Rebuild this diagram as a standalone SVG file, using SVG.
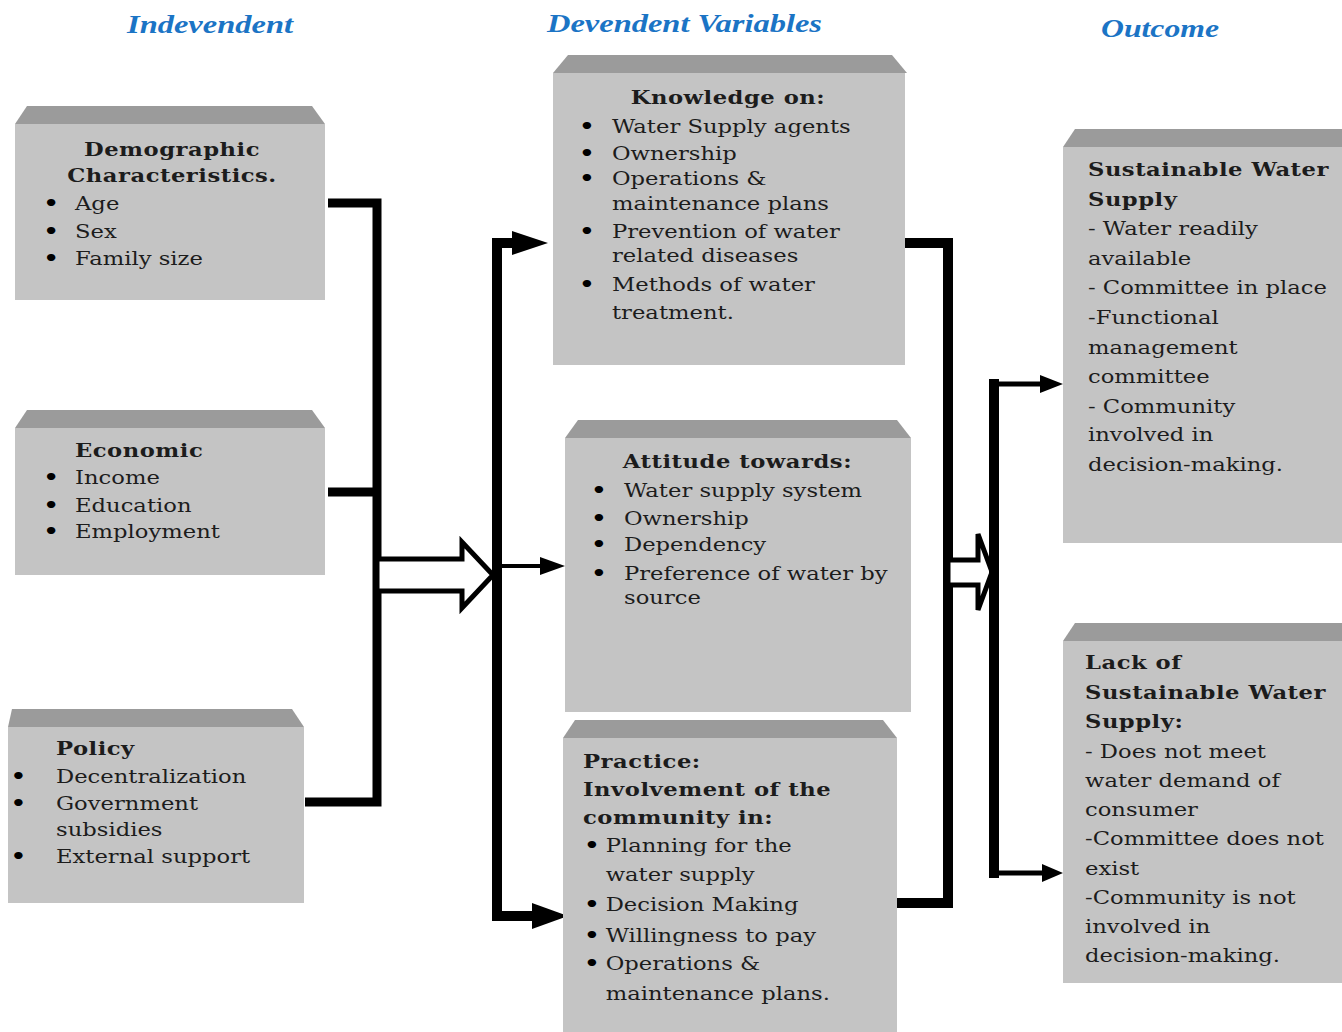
<svg xmlns="http://www.w3.org/2000/svg" width="1342" height="1032" viewBox="0 0 1342 1032">
<style>
.body{fill:#c4c4c4}
.bev{fill:#9b9b9b}
.t{font-family:"DejaVu Serif","Liberation Serif",serif;font-size:18px;fill:#1c1c1c}
.b{font-weight:bold;letter-spacing:0.4px}
.m{text-anchor:middle}
.u{font-family:"DejaVu Sans",sans-serif;font-size:19px;font-weight:bold;fill:#000}
.hd{font-family:"Liberation Serif","DejaVu Serif",serif;font-size:25px;font-weight:bold;font-style:italic;fill:#1b74c5}
.ln{fill:none;stroke:#000;stroke-linejoin:miter}
.ah{fill:#000}
.hol{fill:#fff;stroke:#000;stroke-width:5;stroke-linejoin:miter}
</style>
<rect width="1342" height="1032" fill="#fff"/>
<g id="headers">
<text class="hd" x="127" y="33" textLength="166" lengthAdjust="spacingAndGlyphs">Indevendent</text>
<text class="hd" x="547" y="32" textLength="275" lengthAdjust="spacingAndGlyphs">Devendent Variables</text>
<text class="hd" x="1101" y="37" textLength="118" lengthAdjust="spacingAndGlyphs">Outcome</text>
</g>
<g id="connectors">
<path class="ln" stroke-width="9" d="M328,203 H377 V802 H305"/>
<path class="ln" stroke-width="9" d="M328,492 H377"/>
<polygon class="hol" points="377,559 462,559 462,542 493,575 462,608 462,591 377,591"/>
<path class="ln" stroke-width="10" d="M520,243 H497 V916 H536"/>
<polygon class="ah" points="512,231 548,243 512,255"/>
<polygon class="ah" points="532,903 568,916 532,929"/>
<path class="ln" stroke-width="4" d="M502,566 H545"/>
<polygon class="ah" points="540,557 565,566 540,575"/>
<path class="ln" stroke-width="10" d="M905,243 H948 V903 H890"/>
<polygon class="hol" points="948,560 978,560 978,534 992,572 978,610 978,585 948,585"/>
<path class="ln" stroke-width="10" d="M994,379 V878"/>
<path class="ln" stroke-width="5" d="M989,384 H1045"/>
<polygon class="ah" points="1040,375 1063,384 1040,393"/>
<path class="ln" stroke-width="5" d="M989,873 H1045"/>
<polygon class="ah" points="1042,864 1063,873 1042,882"/>
</g>
<g id="demographic">
<polygon class="bev" points="27,106 312,106 325,124 15,124"/>
<rect class="body" x="15" y="124" width="310" height="176"/>
<g transform="translate(75,0) scale(1.26,1)">
<text class="t b m" x="77" y="156">Demographic</text>
<text class="t b m" x="77" y="182">Characteristics.</text>
<text class="u" x="-25" y="210">•</text><text class="t" x="0" y="210">Age</text>
<text class="u" x="-25" y="238">•</text><text class="t" x="0" y="238">Sex</text>
<text class="u" x="-25" y="265">•</text><text class="t" x="0" y="265">Family size</text>
</g>
</g>
<g id="economic">
<polygon class="bev" points="27,410 312,410 325,428 15,428"/>
<rect class="body" x="15" y="428" width="310" height="147"/>
<g transform="translate(75,0) scale(1.26,1)">
<text class="t b" x="0" y="457">Economic</text>
<text class="u" x="-25" y="484">•</text><text class="t" x="0" y="484">Income</text>
<text class="u" x="-25" y="512">•</text><text class="t" x="0" y="512">Education</text>
<text class="u" x="-25" y="538">•</text><text class="t" x="0" y="538">Employment</text>
</g>
</g>
<g id="policy">
<polygon class="bev" points="12,709 292,709 304,727 8,727"/>
<rect class="body" x="8" y="727" width="296" height="176"/>
<g transform="translate(56,0) scale(1.26,1)">
<text class="t b" x="0" y="755">Policy</text>
<text class="u" x="-36" y="783">•</text><text class="t" x="0" y="783">Decentralization</text>
<text class="u" x="-36" y="810">•</text><text class="t" x="0" y="810">Government</text>
<text class="t" x="0" y="836">subsidies</text>
<text class="u" x="-36" y="863">•</text><text class="t" x="0" y="863">External support</text>
</g>
</g>
<g id="knowledge">
<polygon class="bev" points="568,55 892,55 907,73 553,73"/>
<rect class="body" x="553" y="73" width="352" height="292"/>
<g transform="translate(612,0) scale(1.26,1)">
<text class="t b m" x="92" y="104">Knowledge on:</text>
<text class="u" x="-26" y="133">•</text><text class="t" x="0" y="133">Water Supply agents</text>
<text class="u" x="-26" y="160">•</text><text class="t" x="0" y="160">Ownership</text>
<text class="u" x="-26" y="185">•</text><text class="t" x="0" y="185">Operations &amp;</text>
<text class="t" x="0" y="210">maintenance plans</text>
<text class="u" x="-26" y="238">•</text><text class="t" x="0" y="238">Prevention of water</text>
<text class="t" x="0" y="262">related diseases</text>
<text class="u" x="-26" y="291">•</text><text class="t" x="0" y="291">Methods of water</text>
<text class="t" x="0" y="319">treatment.</text>
</g>
</g>
<g id="attitude">
<polygon class="bev" points="578,420 897,420 911,438 565,438"/>
<rect class="body" x="565" y="438" width="346" height="274"/>
<g transform="translate(624,0) scale(1.26,1)">
<text class="t b m" x="90" y="468">Attitude towards:</text>
<text class="u" x="-26" y="497">•</text><text class="t" x="0" y="497">Water supply system</text>
<text class="u" x="-26" y="525">•</text><text class="t" x="0" y="525">Ownership</text>
<text class="u" x="-26" y="551">•</text><text class="t" x="0" y="551">Dependency</text>
<text class="u" x="-26" y="580">•</text><text class="t" x="0" y="580">Preference of water by</text>
<text class="t" x="0" y="604">source</text>
</g>
</g>
<g id="practice">
<polygon class="bev" points="575,720 883,720 897,738 563,738"/>
<rect class="body" x="563" y="738" width="334" height="294"/>
<g transform="translate(583,0) scale(1.26,1)">
<text class="t b" x="0" y="768">Practice:</text>
<text class="t b" x="0" y="796">Involvement of the</text>
<text class="t b" x="0" y="824">community in:</text>
<text class="u" x="1" y="852">•</text><text class="t" x="18" y="852">Planning for the</text>
<text class="t" x="18" y="881">water supply</text>
<text class="u" x="1" y="911">•</text><text class="t" x="18" y="911">Decision Making</text>
<text class="u" x="1" y="942">•</text><text class="t" x="18" y="942">Willingness to pay</text>
<text class="u" x="1" y="970">•</text><text class="t" x="18" y="970">Operations &amp;</text>
<text class="t" x="18" y="1000">maintenance plans.</text>
</g>
</g>
<g id="sustainable">
<polygon class="bev" points="1075,129 1342,129 1342,147 1063,147"/>
<rect class="body" x="1063" y="147" width="279" height="396"/>
<g transform="translate(1088,0) scale(1.26,1)">
<text class="t b" x="0" y="176">Sustainable Water</text>
<text class="t b" x="0" y="206">Supply</text>
<text class="t" x="0" y="235">- Water readily</text>
<text class="t" x="0" y="265">available</text>
<text class="t" x="0" y="294">- Committee in place</text>
<text class="t" x="0" y="324">-Functional</text>
<text class="t" x="0" y="354">management</text>
<text class="t" x="0" y="383">committee</text>
<text class="t" x="0" y="413">- Community</text>
<text class="t" x="0" y="441">involved in</text>
<text class="t" x="0" y="471">decision-making.</text>
</g>
</g>
<g id="lack">
<polygon class="bev" points="1075,623 1342,623 1342,641 1063,641"/>
<rect class="body" x="1063" y="641" width="279" height="342"/>
<g transform="translate(1085,0) scale(1.26,1)">
<text class="t b" x="0" y="669">Lack of</text>
<text class="t b" x="0" y="699">Sustainable Water</text>
<text class="t b" x="0" y="728">Supply:</text>
<text class="t" x="0" y="758">- Does not meet</text>
<text class="t" x="0" y="787">water demand of</text>
<text class="t" x="0" y="816">consumer</text>
<text class="t" x="0" y="845">-Committee does not</text>
<text class="t" x="0" y="875">exist</text>
<text class="t" x="0" y="904">-Community is not</text>
<text class="t" x="0" y="933">involved in</text>
<text class="t" x="0" y="962">decision-making.</text>
</g>
</g>
</svg>
